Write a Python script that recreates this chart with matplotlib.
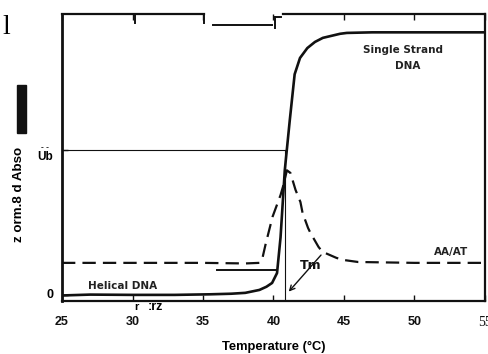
import matplotlib
matplotlib.use("Agg")
import matplotlib.pyplot as plt
from matplotlib.patches import Rectangle

# ---------------- data ----------------
temp_ss = [25, 27, 30, 33, 35.5, 37, 38, 39, 39.5, 39.9, 40.25, 40.5, 40.8,
           41.15, 41.5, 41.88, 42.4, 42.94, 43.5, 44.72, 45.2, 47, 50, 55]
abs_ss = [0.0, 0.003, 0.002, 0.002, 0.004, 0.006, 0.009, 0.019, 0.03, 0.043,
          0.077, 0.2, 0.43, 0.6, 0.76, 0.816, 0.85, 0.871, 0.885, 0.899,
          0.902, 0.904, 0.904, 0.904]

temp_aa = [25, 30, 35, 38, 39.0, 39.2, 39.43, 39.93, 40.5, 40.71, 40.95,
           41.2, 41.56, 41.91, 42.06, 42.45, 42.62, 43.19, 43.47, 44.47,
           44.96, 46, 50, 55]
abs_aa = [0.112, 0.112, 0.112, 0.11, 0.112, 0.125, 0.174, 0.27, 0.345, 0.38,
          0.43, 0.421, 0.363, 0.321, 0.284, 0.232, 0.215, 0.167, 0.15, 0.129,
          0.122, 0.115, 0.112, 0.112]

# second (doubled) trace segment seen in the scan
temp_dup = [36.0, 40.2]
abs_dup = [0.089, 0.089]

tm_value = 40.8
half_level = 0.5

xticks = [25, 30, 35, 40, 45, 50, 55]
xtick_labels = ["25", "30", "35", "40", "45", "50", "55"]
yticks = [0, 0.5]
ytick_labels = ["0", "Ub"]

# ---------------- figure ----------------
W, H = 489, 354
fig = plt.figure(figsize=(W / 100, H / 100), dpi=100)
L, R, T, B = 62, 485, 14, 301
ax = fig.add_axes([L / W, 1 - B / H, (R - L) / W, (B - T) / H])
ax.set_xlim(25, 55)
ax.set_ylim(-0.019, 0.967)

ink = "#111111"

# curves
ax.plot(temp_ss, abs_ss, color=ink, lw=1.9, solid_capstyle="round")
ax.plot(temp_aa, abs_aa, color=ink, lw=1.6, dashes=(6, 3.2))
ax.plot(temp_dup, abs_dup, color=ink, lw=1.4)

# Tm reference lines
ax.plot([25, tm_value], [half_level, half_level], color=ink, lw=0.8)
ax.plot([tm_value, tm_value], [-0.019, half_level], color=ink, lw=0.8)

# Tm arrow and label
ax.annotate("", xy=(tm_value + 0.15, 0.006), xytext=(43.5, 0.146),
            arrowprops=dict(arrowstyle="->", color=ink, lw=1.0,
                            mutation_scale=9))
ax.text(41.9, 0.103, "Tm", fontsize=9, color=ink, ha="left", va="center",
        family="DejaVu Sans", fontweight="bold")

# annotations
ax.text(49.2, 0.845, "Single Strand", fontsize=7.5, fontweight="bold",
        color="#222222", ha="center", va="center", family="DejaVu Sans")
ax.text(49.5, 0.79, "DNA", fontsize=7.5, fontweight="bold",
        color="#222222", ha="center", va="center", family="DejaVu Sans")
ax.text(52.6, 0.15, "AA/AT", fontsize=7.5, fontweight="bold",
        color="#222222", ha="center", va="center", family="DejaVu Sans")
ax.text(29.3, 0.033, "Helical DNA", fontsize=7.5, fontweight="bold",
        color="#222222", ha="center", va="center", family="DejaVu Sans")

# spines
ax.spines["left"].set_linewidth(2.0)
for s in ["bottom", "right"]:
    ax.spines[s].set_linewidth(1.6)
ax.spines["top"].set_visible(False)
for s in ax.spines.values():
    s.set_color(ink)

# broken top frame (scan artefact)
xt = ax.get_xaxis_transform()
ax.plot([25, 35.1], [1.0, 1.0], color=ink, lw=1.6, transform=xt, clip_on=False)
ax.plot([30.2, 30.2], [1.0, 0.968], color=ink, lw=1.4, transform=xt, clip_on=False)
ax.plot([35.1, 35.1], [1.0, 0.968], color=ink, lw=1.4, transform=xt, clip_on=False)
ax.plot([35.7, 39.9], [0.962, 0.962], color=ink, lw=1.4, transform=xt, clip_on=False)
ax.plot([40.1, 40.1], [0.99, 0.952], color=ink, lw=1.4, transform=xt, clip_on=False)
ax.plot([40.1, 40.5], [0.99, 0.99], color=ink, lw=1.4, transform=xt, clip_on=False)
ax.plot([40.7, 55], [1.0, 1.0], color=ink, lw=1.6, transform=xt, clip_on=False)

# ticks
ax.set_xticks(xticks)
ax.set_xticklabels(xtick_labels)
ax.tick_params(axis="x", direction="in", length=4, width=1.0, top=True,
               pad=10.5, labelsize=9, colors=ink)
for lab in ax.get_xticklabels():
    lab.set_fontfamily("Liberation Sans")
    lab.set_fontweight("bold")
last = ax.get_xticklabels()[-1]
last.set_fontfamily("Liberation Serif")
last.set_fontweight("normal")
last.set_fontsize(10)

ax.set_yticks(yticks)
ax.set_yticklabels([])
ax.tick_params(axis="y", direction="in", length=4, width=1.0)
yt = ax.get_yaxis_transform()
ax.text(-0.02, yticks[0], ytick_labels[0], transform=yt, ha="right",
        va="center", fontsize=9, fontweight="bold", family="Liberation Sans")
ax.text(-0.022, yticks[1] - 0.024, ytick_labels[1], transform=yt, ha="right",
        va="center", fontsize=8.5, fontweight="bold", family="Liberation Sans")
ax.text(-0.03, yticks[1] + 0.01, "- -", transform=yt, ha="right",
        va="center", fontsize=6, fontweight="bold", family="Liberation Sans")

# bottom garble just under the frame
ax.text(30.25, -0.038, "r", ha="center", va="center",
        fontsize=8, fontweight="bold", family="Liberation Sans", clip_on=False)
ax.text(31.6, -0.038, ":rz", ha="center", va="center",
        fontsize=9, fontweight="bold", family="Liberation Sans", clip_on=False)

# axis label
ax.set_xlabel("Temperature (°C)", fontsize=9.3, fontweight="bold",
              family="Liberation Sans", labelpad=9)
fig.text(19 / W, 1 - 194 / H, "z orm.8 d Abso", rotation=90, ha="center",
         va="center", fontsize=9.6, fontweight="bold", family="Liberation Sans")
fig.patches.append(Rectangle((17 / W, 1 - 133 / H), 9 / W, 48 / H,
                             transform=fig.transFigure, color=ink))
fig.text(2 / W, 1 - 28 / H, "l", ha="left", va="center", fontsize=20,
         family="Liberation Serif")

fig.savefig("out.png", dpi=100)
